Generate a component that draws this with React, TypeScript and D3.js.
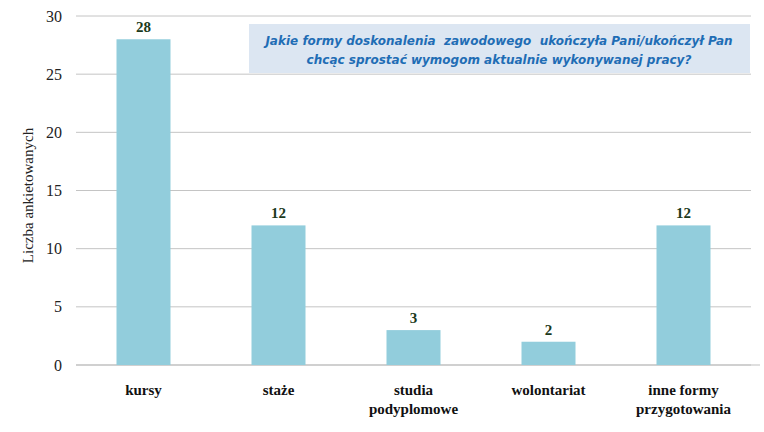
import React from "react";
import * as d3 from "d3";

const categories: string[][] = [
  ["kursy"],
  ["staże"],
  ["studia", "podyplomowe"],
  ["wolontariat"],
  ["inne formy", "przygotowania"],
];
const values: number[] = [28, 12, 3, 2, 12];
const yTicks: number[] = [0, 5, 10, 15, 20, 25, 30];
const yTitle = "Liczba ankietowanych";
const titleLines = [
  "Jakie formy doskonalenia  zawodowego  ukończyła Pani/ukończył Pan",
  "chcąc sprostać wymogom aktualnie wykonywanej pracy?",
];

const W = 764;
const H = 432;
const left = 76;
const right = 751;
const top = 16;
const bottom = 365;

const serif = "Liberation Serif, DejaVu Serif, serif";

export default function App() {
  const x = d3
    .scaleBand<number>()
    .domain(d3.range(values.length))
    .range([left, right])
    .paddingInner(0.6)
    .paddingOuter(0.3);
  const y = d3.scaleLinear().domain([0, 30]).range([bottom, top]);

  return (
    <svg
      width={W}
      height={H}
      style={{ position: "absolute", left: 0, top: 0, background: "#fff" }}
    >
      {yTicks.map((t) => (
        <g key={t}>
          <line
            x1={left}
            x2={right}
            y1={y(t)}
            y2={y(t)}
            stroke="#c4c4c4"
            strokeWidth={1}
          />
          <text
            x={62}
            y={y(t)}
            dy="0.35em"
            textAnchor="end"
            style={{ fontFamily: serif }}
            fontSize={16}
            fill="#222"
          >
            {t}
          </text>
        </g>
      ))}
      <line x1={left} x2={760} y1={bottom} y2={bottom} stroke="#bfbfbf" />
      <text
        transform={`translate(33,${(top + bottom) / 2 + 5}) rotate(-90)`}
        textAnchor="middle"
        style={{ fontFamily: serif }}
        fontSize={15}
        fill="#222"
      >
        {yTitle}
      </text>
      {values.map((v, i) => (
        <g key={i}>
          <rect
            x={x(i)}
            y={y(v)}
            width={x.bandwidth()}
            height={bottom - y(v)}
            fill="#92cddc"
          />
          <text
            x={(x(i) as number) + x.bandwidth() / 2}
            y={y(v) - 7}
            textAnchor="middle"
            style={{ fontFamily: serif }}
            fontWeight="bold"
            fontSize={15}
            fill="#1c3a1c"
          >
            {v}
          </text>
          {categories[i].map((line, j) => (
            <text
              key={j}
              x={(x(i) as number) + x.bandwidth() / 2}
              y={395 + j * 19}
              textAnchor="middle"
              style={{ fontFamily: serif }}
              fontWeight="bold"
              fontSize={15}
              fill="#111"
            >
              {line}
            </text>
          ))}
        </g>
      ))}
      <rect x={249} y={24} width={501} height={49} fill="#dce6f2" />
      {titleLines.map((l, i) => (
        <text
          key={i}
          x={499}
          y={45 + i * 19}
          textAnchor="middle"
          style={{ fontFamily: "DejaVu Sans, sans-serif", whiteSpace: "pre" }}
          fontStyle="italic"
          fontWeight="bold"
          fontSize={12}
          fill="#1f6db5"
        >
          {l}
        </text>
      ))}
    </svg>
  );
}
